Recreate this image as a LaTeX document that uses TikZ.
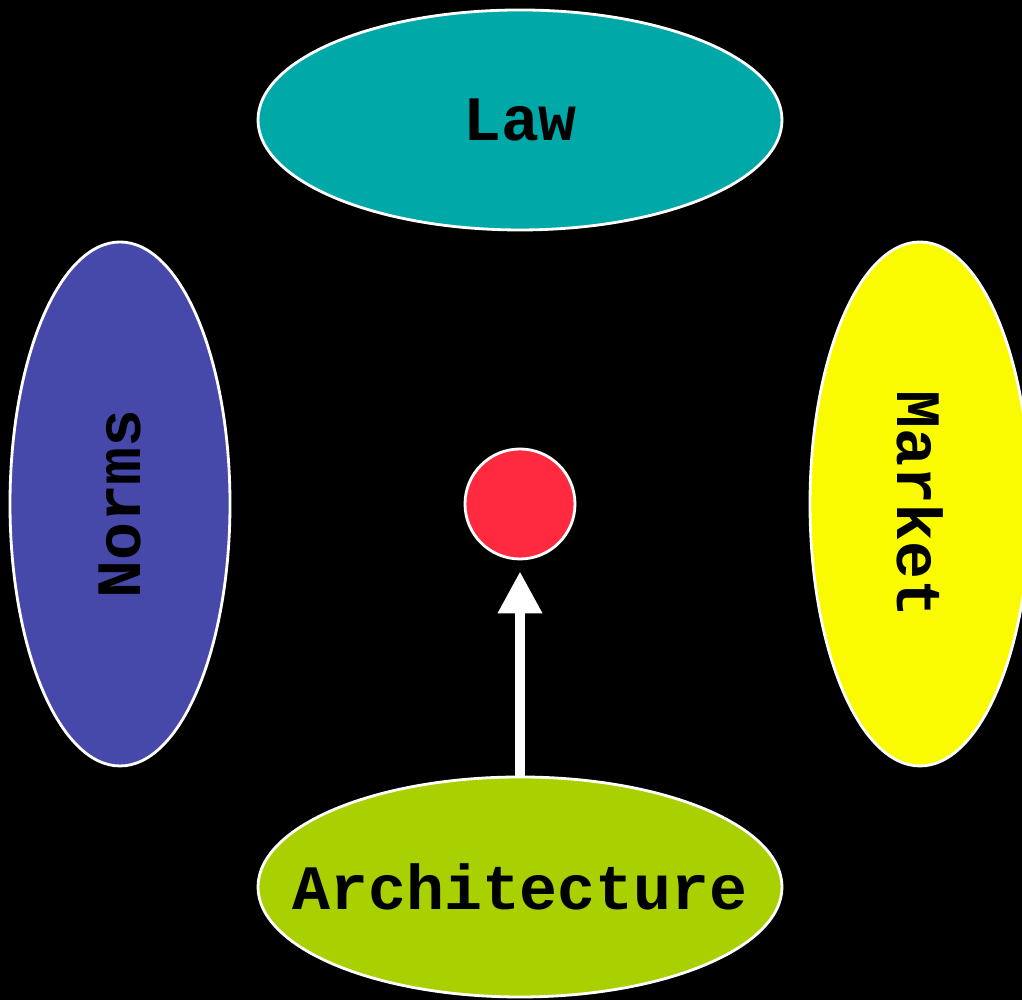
\documentclass[tikz,border=0pt]{standalone}
\usepackage{fontspec}
\setmonofont{Liberation Mono}
\usepackage{xcolor}
\usetikzlibrary{shapes,arrows.meta,positioning}

\definecolor{lawcol}{RGB}{0,168,168}
\definecolor{normscol}{RGB}{70,72,170}
\definecolor{marketcol}{RGB}{250,250,0}
\definecolor{archcol}{RGB}{169,208,0}
\definecolor{dotcol}{RGB}{255,42,64}

\begin{document}
\begin{tikzpicture}[
    force/.style={draw=white, line width=0.8pt, ellipse, inner sep=0pt, font=\ttfamily\bfseries\fontsize{18}{20}\selectfont, text=black},
    wide/.style={force, minimum width=5.24cm, minimum height=2.2cm},
    tall/.style={force, minimum width=2.2cm, minimum height=5.24cm}]
    \fill[black] (0,0) rectangle (10.22,10);
    \useasboundingbox (0,0) rectangle (10.22,10);

    \node[wide, fill=lawcol] (law) at (5.2,8.8) {Law};
    \node[wide, fill=archcol] (arch) at (5.2,1.13) {\makebox[0pt]{Architecture}};
    \node[tall, fill=normscol] (norms) at (1.2,4.96) {\rotatebox{90}{Norms}};
    \node[tall, fill=marketcol] (market) at (9.2,4.96) {\rotatebox{-90}{Market}};
    \node[draw=white, line width=0.8pt, circle, fill=dotcol, minimum size=1.1cm, inner sep=0pt] (dot) at (5.2,4.96) {};

    \draw[white, line width=0.1cm, -{Triangle[width=0.42cm, length=0.42cm]}, shorten >=0.11cm] (arch.north) -- (dot.south);
\end{tikzpicture}
\end{document}
